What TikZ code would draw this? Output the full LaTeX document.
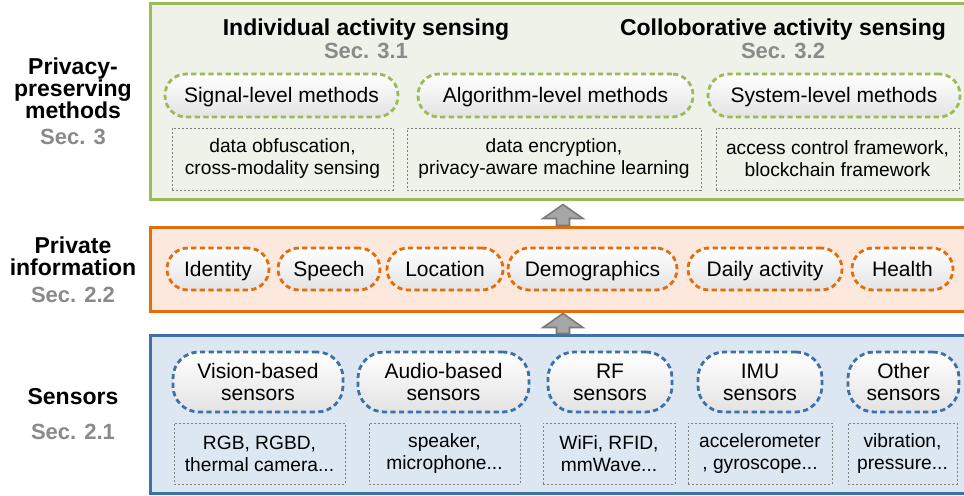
\documentclass[tikz,border=0pt]{standalone}
\usepackage{fontspec}
\setmainfont{Liberation Sans}
\usepackage{tikz}
\usetikzlibrary{calc}

\definecolor{grnline}{HTML}{9BBB59}
\definecolor{grnfill}{HTML}{EFF2E8}
\definecolor{orgline}{HTML}{E46C0A}
\definecolor{orgfill}{HTML}{FCE8DC}
\definecolor{bluline}{HTML}{3E70AA}
\definecolor{blufill}{HTML}{DDE7F2}
\definecolor{secgray}{HTML}{8A8A8A}

\tikzset{
	panel/.style={draw=#1line, fill=#1fill, line width=1.5pt, minimum width=408pt, inner sep=0pt},
	pill/.style={draw=#1, line width=1.4pt, dash pattern=on 2.6pt off 1.7pt, rounded corners=10.5pt,
		top color=white, bottom color=black!11, align=center, inner sep=0pt,
		font=\fontsize{10.5}{11}\selectfont},
	oneline/.style={text height=9pt, text depth=2pt},
	notebox/.style={draw=black!50, line width=0.5pt, dash pattern=on 1pt off 1pt, align=center,
		inner sep=0pt, font=\fontsize{9.6}{11}\selectfont},
	layername/.style={align=center, inner sep=0pt, font=\bfseries\fontsize{11.5}{11}\selectfont},
	sectag/.style={text=secgray, inner sep=0pt, font=\bfseries\fontsize{11}{12}\selectfont},
	liftfill/.style={fill=black!35, draw=black!52, line width=0.8pt}
}

% block arrow pointing up from #1 to #2 (pixel units)
\newcommand\liftarrow[2]{%
	\filldraw[liftfill] ($(#1)+(-6.5,0)$) -- ($(#2)+(-6.5,14)$) -- ($(#2)+(-20,14)$) -- (#2)
		-- ($(#2)+(20,14)$) -- ($(#2)+(6.5,14)$) -- ($(#1)+(6.5,0)$) -- cycle;}

\begin{document}
\begin{tikzpicture}[x=0.5pt,y=-0.5pt]
	\clip (0,0) rectangle (964,495);

	% layers
	\node[panel=grn, minimum height=98pt] (methods) at (558,101) {};
	\node[panel=org, minimum height=42pt] (info) at (558,269) {};
	\node[panel=blu, minimum height=79pt] (sensors) at (558,414) {};

	% arrows between layers
	\path (info.north) ++(5,0) coordinate (lift1 base);
	\path (methods.south) ++(5,4) coordinate (lift1 tip);
	\path (sensors.north) ++(5,0) coordinate (lift2 base);
	\path (info.south) ++(5,1) coordinate (lift2 tip);
	\liftarrow{lift1 base}{lift1 tip}
	\liftarrow{lift2 base}{lift2 tip}

	% left labels
	\node[layername] (methodsname) at (73,88) {Privacy-\\preserving\\methods};
	\node[sectag] (methodssec) at (73,137) {Sec. 3};
	\node[layername] (infoname) at (73,256) {Private\\information};
	\node[sectag] (infosec) at (73,295) {Sec. 2.2};
	\node[layername] (sensorsname) at (73,397) {Sensors};
	\node[sectag] (sensorssec) at (73,432) {Sec. 2.1};

	% privacy-preserving methods
	\node[layername] (indiv) at (366,30) {Individual activity sensing};
	\node[sectag] (indivsec) at (366,51) {Sec. 3.1};
	\node[layername] (collab) at (783,30) {Colloborative activity sensing};
	\node[sectag] (collabsec) at (783,51) {Sec. 3.2};

	\node[pill=grnline, oneline, minimum width=116.5pt, minimum height=21.5pt] (signal) at (281.5,95.5) {Signal-level methods};
	\node[pill=grnline, oneline, minimum width=137.5pt, minimum height=21.5pt] (algo) at (555.5,95.5) {Algorithm-level methods};
	\node[pill=grnline, oneline, minimum width=126pt, minimum height=21.5pt] (system) at (834,95.5) {System-level methods};

	\node[notebox, minimum width=110.5pt, minimum height=31pt] (obf) at (282.5,159) {data obfuscation,\\cross-modality sensing};
	\node[notebox, minimum width=147pt, minimum height=31pt] (enc) at (554,159) {data encryption,\\privacy-aware machine learning};
	\node[notebox, minimum width=121.5pt, minimum height=31pt] (access) at (837.5,159) {access control framework,\\blockchain framework};

	% private information
	\node[pill=orgline, oneline, minimum width=51pt, minimum height=21pt] (identity) at (218,269) {Identity};
	\node[pill=orgline, oneline, minimum width=51pt, minimum height=21pt] (speech) at (329,269) {Speech};
	\node[pill=orgline, oneline, minimum width=58pt, minimum height=21pt] (location) at (445,269) {Location};
	\node[pill=orgline, oneline, minimum width=84.5pt, minimum height=21pt] (demo) at (592.5,269) {Demographics};
	\node[pill=orgline, oneline, minimum width=77pt, minimum height=21pt] (daily) at (765,269) {Daily activity};
	\node[pill=orgline, oneline, minimum width=50.5pt, minimum height=21pt] (health) at (902.5,269) {Health};

	% sensors
	\node[pill=bluline, rounded corners=13pt, minimum width=85pt, minimum height=30pt] (vision) at (258,382) {Vision-based\\sensors};
	\node[pill=bluline, rounded corners=13pt, minimum width=85.5pt, minimum height=30pt] (audio) at (443.5,382) {Audio-based\\sensors};
	\node[pill=bluline, rounded corners=13pt, minimum width=62pt, minimum height=30pt] (rf) at (610,382) {RF\\sensors};
	\node[pill=bluline, rounded corners=13pt, minimum width=62pt, minimum height=30pt] (imu) at (760,382) {IMU\\sensors};
	\node[pill=bluline, rounded corners=13pt, minimum width=55.5pt, minimum height=30pt] (other) at (903.5,382) {Other\\sensors};

	\node[notebox, minimum width=85.5pt, minimum height=30.5pt] (rgb) at (259.5,453.5) {RGB, RGBD,\\thermal camera...};
	\node[notebox, minimum width=75.5pt, minimum height=30.5pt] (speaker) at (444.5,453.5) {speaker,\\microphone...};
	\node[notebox, minimum width=66pt, minimum height=30.5pt] (wifi) at (609,453.5) {WiFi, RFID,\\mmWave...};
	\node[notebox, minimum width=72pt, minimum height=30.5pt] (accel) at (760,453.5) {accelerometer\\, gyroscope...};
	\node[notebox, minimum width=54.5pt, minimum height=30.5pt] (vibration) at (902.5,453.5) {vibration,\\pressure...};
\end{tikzpicture}
\end{document}
